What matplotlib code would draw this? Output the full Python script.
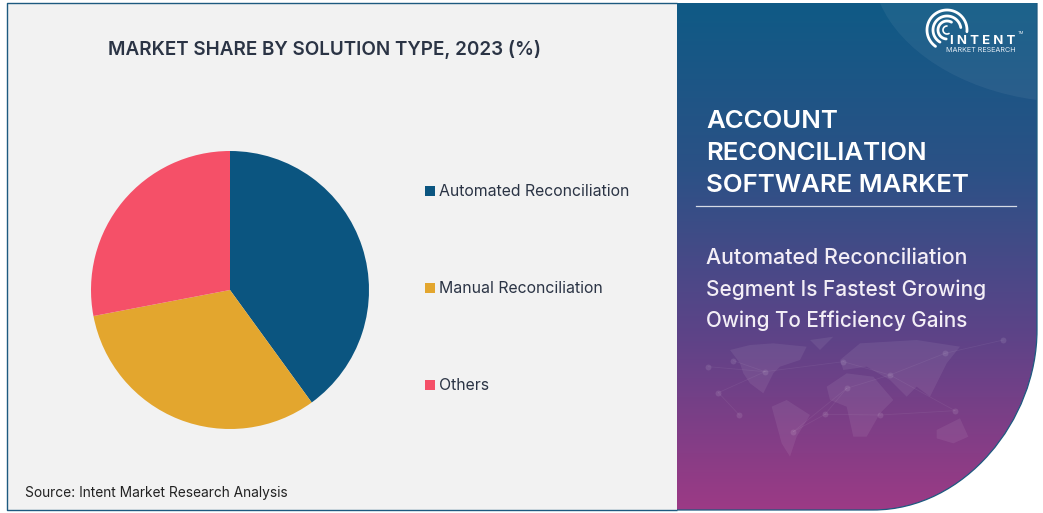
import numpy as np
import matplotlib
matplotlib.use('Agg')
import matplotlib.pyplot as plt
import matplotlib.patches as mpatches
from matplotlib.path import Path
from matplotlib.colors import LinearSegmentedColormap

plt.rcParams['font.family']=['Inter','DejaVu Sans']

labels=['Automated Reconciliation','Manual Reconciliation','Others']
shares=[40,32,28]
colors=['#0b5580','#e3a62e','#f55068']
title='MARKET SHARE BY SOLUTION TYPE, 2023 (%)'
source='Source: Intent Market Research Analysis'
side_title=['ACCOUNT','RECONCILIATION','SOFTWARE MARKET']
side_text=['Automated Reconciliation','Segment Is Fastest Growing','Owing To Efficiency Gains']

W,H=1043,513
L,T,M,R,B=7,3,677,1037,510
EDGE='#1d5a80'

fig=plt.figure(figsize=(W/100,H/100),dpi=100,facecolor='white')
bg=fig.add_axes([0,0,1,1])
bg.set_xlim(0,W); bg.set_ylim(H,0); bg.axis('off')

# left panel
bg.add_patch(mpatches.Rectangle((L,T),M-L,B-T,facecolor='#f2f2f2',edgecolor='none'))
bg.plot([M,L,L,M],[T,T,B,B],color=EDGE,lw=1.0,solid_capstyle='butt')

# right panel with the rounded corner
verts=[(M,T),(R,T),(R,330),(R,420),(965,B),(873,B),(M,B),(M,T)]
codes=[Path.MOVETO,Path.LINETO,Path.LINETO,Path.CURVE4,Path.CURVE4,Path.CURVE4,Path.LINETO,Path.CLOSEPOLY]
shape=mpatches.PathPatch(Path(verts,codes),facecolor='none',edgecolor='none')
bg.add_patch(shape)
cm=LinearSegmentedColormap.from_list('side',['#0f5a85','#2c5186','#5f4388','#9c3a85'])
im=bg.imshow(np.linspace(0,1,256)[:,None],extent=(M,R,B,T),cmap=cm,aspect='auto',zorder=1)
im.set_clip_path(shape)
bg.set_xlim(0,W); bg.set_ylim(H,0)
bg.add_patch(mpatches.PathPatch(Path(verts[1:7],[Path.MOVETO,Path.LINETO,Path.CURVE4,Path.CURVE4,Path.CURVE4,Path.LINETO]),
    facecolor='none',edgecolor=EDGE,lw=0.9,zorder=3))

# lighter curved band top right
band=mpatches.PathPatch(Path([(880,T),(900,50),(960,90),(R,100),(R,T),(880,T)],
    [Path.MOVETO,Path.CURVE4,Path.CURVE4,Path.CURVE4,Path.LINETO,Path.CLOSEPOLY]),
    facecolor='white',alpha=0.055,edgecolor='none',zorder=2)
bg.add_patch(band)

# faint world map
def zp(pts):
    return [(640+x/3,330+y/3) for x,y in pts]
lands=[[(270,60),(330,45),(400,40),(500,50),(480,90),(420,110),(400,130),(385,160),(370,190),(330,160),(310,130),(300,100)],
       [(510,30),(580,20),(540,60)],
       [(395,230),(440,210),(510,255),(470,320),(450,380),(425,340)],
       [(560,170),(620,130),(700,140),(760,210),(720,250),(680,320),(640,320),(620,230),(570,210)],
       [(600,90),(660,40),(830,30),(960,50),(920,100),(900,140),(870,200),(830,170),(800,200),(750,150),(680,110),(610,120)],
       [(890,300),(960,265),(985,320),(940,340),(890,325)]]
for p in lands:
    bg.add_patch(mpatches.Polygon(zp(p),facecolor='white',alpha=0.07,edgecolor='none',zorder=2))
nodes=zp([(205,110),(280,92),(375,125),(235,188),(298,255),(555,253),(460,305),(610,95),(750,135),(945,242),(720,255),(915,70),(1090,30),(620,175)])
links=[(0,2),(1,2),(2,3),(3,4),(2,7),(5,6),(5,10),(7,8),(8,11),(8,9),(9,10),(11,12),(13,8),(13,5),(6,13)]
for a,b in links:
    bg.plot([nodes[a][0],nodes[b][0]],[nodes[a][1],nodes[b][1]],color='white',alpha=0.06,lw=0.6,zorder=2)
bg.scatter([n[0] for n in nodes],[n[1] for n in nodes],s=18,color='white',alpha=0.10,lw=0,zorder=2)

# logo
cx,cy=947,30
for r,a0,a1 in [(4,90,300),(9,60,265),(14,10,240),(20,-5,235)]:
    t=np.radians(np.linspace(a0,a1,60))
    bg.plot(cx+r*np.cos(t),cy-r*np.sin(t),color='white',lw=2.0 if r>4 else 1.2,zorder=4,solid_capstyle='round')
bg.text(983,41,'I N T E N T',color='white',fontsize=9.5,fontweight='bold',ha='center',va='center',zorder=5)
bg.text(980.5,50.5,'MARKET RESEARCH',color='#e6eef5',fontsize=5.2,ha='center',va='center',zorder=5)
bg.text(1018,33.5,'TM',color='#dfe8f0',fontsize=3,ha='left',va='center',zorder=5)

# headings
bg.text(324,49.5,title,color='#2b3445',fontsize=13.6,fontweight='semibold',ha='center',va='center',zorder=5)
bg.text(25,492.5,source,color='#222222',fontsize=9.9,ha='left',va='center',zorder=5)

# side texts
for y,s in zip([121.5,153.5,185.5],side_title):
    bg.text(706,y,s,color='white',fontsize=18.6,fontweight='semibold',ha='left',va='center',zorder=5)
bg.plot([696,1016],[206,206],color='#d5dbe6',lw=0.9,zorder=5)
for y,s,fs in zip([258,290,321],side_text,[15.4,15.0,14.9]):
    bg.text(706,y,s,color='#f3eef6',fontsize=fs,fontweight='medium',ha='left',va='center',zorder=5)

# pie
size=2*139
ax=fig.add_axes([(230-139)/W,1-(290+139)/H,size/W,size/H])
ax.pie(shares,colors=colors,startangle=90,counterclock=False,radius=1.0,
       wedgeprops={'linewidth':0})
ax.set_xlim(-1,1); ax.set_ylim(-1,1)
ax.patch.set_alpha(0)

# legend
for y,s,c in zip([191,288,385],labels,colors):
    bg.add_patch(mpatches.Rectangle((425,y-5),10,10,facecolor=c,edgecolor='none',zorder=5))
    bg.text(439,y+0.5,s,color='#2b3445',fontsize=11.4,ha='left',va='center',zorder=5)

fig.savefig('out.png',dpi=100)
